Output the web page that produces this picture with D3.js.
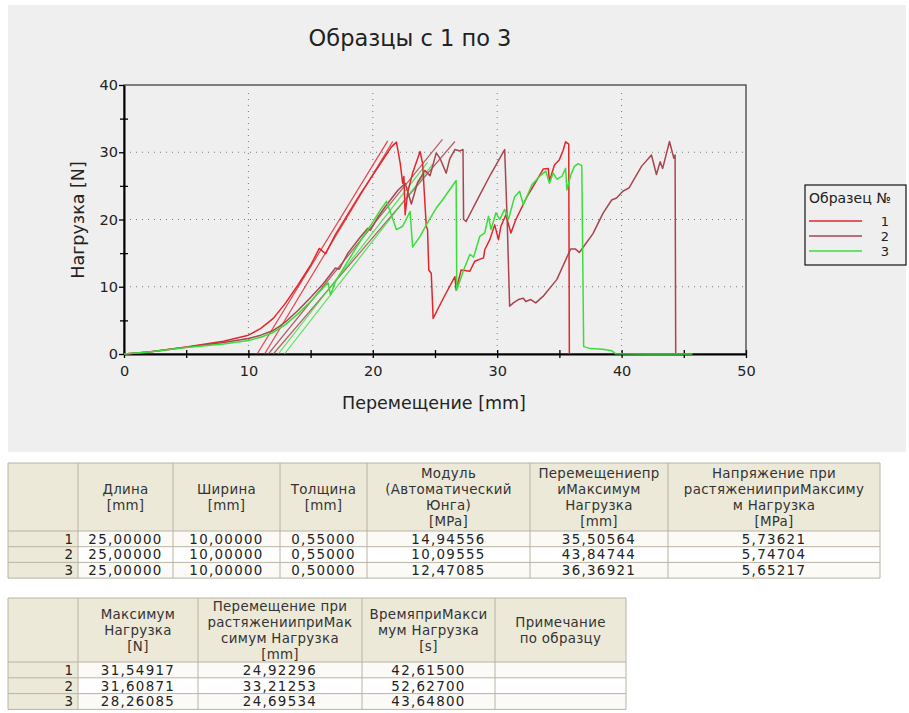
<!DOCTYPE html>
<html>
<head>
<meta charset="utf-8">
<script src="https://cdn.jsdelivr.net/npm/d3@7"></script>
<style>
  body { margin: 0; background: #fff; }
  svg text { font-family: "DejaVu Sans", Verdana, sans-serif; }
</style>
</head>
<body>
<svg id="chart" width="909" height="713"></svg>
<script>
// ---- data ----
const chartTitle = "Образцы с 1 по 3";
const xLabel = "Перемещение [mm]";
const yLabel = "Нагрузка [N]";
const xTicks = [0, 10, 20, 30, 40, 50];
const yTicks = [0, 10, 20, 30, 40];
const legendTitle = "Образец №";
const specimenNames = ["1", "2", "3"];
const specimenColors = ["#e2262c", "#a8464f", "#3ade3a"];

// specimen 1 (displacement mm, load N)
const curve1 = [[0,0],[2,0.3],[5,1.05],[8,1.9],[10,2.8],[11,3.8],[12,5.3],[13,7.6],[14,10.3],[15,13.2],[15.7,15.7],[16.2,14.9],[17,17.8],[18,20.8],[19,23.8],[20,26.6],[21,29.4],[21.5,30.8],[21.9,31.5],[22.2,28.4],[22.4,25.4],[22.5,26.4],[22.6,20.7],[22.8,24.0],[23.2,26.9],[23.8,30.1],[24.0,28.4],[24.3,19.0],[24.4,18.5],[24.5,12.5],[24.7,12.0],[24.85,5.3],[25.7,8.4],[26.6,11.5],[26.7,9.5],[27.1,12.5],[27.8,12.3],[28.2,13.8],[28.9,14.3],[29.0,15.5],[29.4,17.0],[29.8,19.2],[30.1,17.0],[30.3,19.0],[30.7,20.7],[31.1,18.0],[31.5,20.0],[32.4,23.4],[33.2,25.9],[33.7,27.5],[34.1,27.6],[34.2,25.7],[34.6,28.1],[35.0,28.9],[35.3,30.3],[35.5,31.55],[35.75,31.2],[35.8,0]];
// specimen 2
const curve2 = [[0,0],[2,0.3],[5,1.0],[8,1.7],[10,2.3],[11,2.8],[12,3.5],[12.5,4.1],[13,4.8],[14,6.5],[15,8.4],[16,10.4],[17,12.8],[17.3,12.6],[18,15.0],[19,17.4],[19.6,18.7],[19.8,18.4],[20.5,20.6],[21,21.9],[22,24.3],[22.6,25.4],[23.1,22.3],[23.6,25.5],[24.2,27.3],[24.6,26.5],[25.1,29.9],[25.4,29.1],[25.9,26.9],[26.2,29.1],[26.6,30.4],[27.0,30.2],[27.25,30.4],[27.3,20.0],[27.5,19.7],[28.5,23.3],[29.5,26.8],[30.6,30.4],[30.8,20.0],[31.0,7.1],[31.3,7.6],[31.7,8.1],[32.1,8.3],[32.3,7.8],[32.7,8.1],[33.1,7.6],[33.7,8.6],[34.8,11.1],[35.9,15.6],[36.3,15.6],[36.6,15.1],[37.0,16.1],[37.7,17.9],[38.5,20.9],[39.2,22.9],[39.6,23.2],[40.1,24.2],[40.6,24.7],[41.6,27.9],[42.4,29.6],[42.8,26.7],[43.1,28.6],[43.3,27.6],[43.85,31.6],[44.2,29.1],[44.3,29.6],[44.35,0]];
// specimen 3
const curve3 = [[0,0],[2,0.3],[5,0.95],[8,1.5],[10,2.0],[11,2.5],[12,3.2],[13,4.4],[14,6.0],[15,7.8],[16,9.8],[16.4,10.6],[16.6,8.8],[17,10.8],[18,13.8],[19,16.8],[20,19.6],[20.6,21.4],[21.1,22.7],[21.9,18.5],[22.4,19.0],[23.0,21.2],[23.2,15.9],[23.8,17.5],[24.3,19.2],[25.1,21.7],[25.6,22.9],[26.7,25.8],[26.75,9.5],[27.3,12.5],[27.8,14.8],[28.1,14.4],[28.6,17.5],[29.0,18.0],[29.3,20.5],[29.5,18.5],[29.9,21.0],[30.2,20.0],[30.6,21.5],[30.9,20.0],[31.4,23.4],[31.8,24.2],[32.1,22.2],[32.8,25.2],[33.4,26.4],[33.9,27.2],[34.2,25.4],[34.5,26.9],[34.8,26.0],[35.2,26.4],[35.5,27.6],[35.6,24.4],[35.9,26.5],[36.2,27.9],[36.5,28.3],[36.8,28.0],[36.95,1.1],[37.5,0.8],[38.5,0.7],[39.2,0.5],[39.5,0.05],[42,0],[45.7,0]];
// modulus fit lines, per specimen
const fit1 = [[[10.7,0],[21.2,31.7]], [[11.3,0],[21.6,31.6]]];
const fit2 = [[[11.6,0],[25.6,31.9]], [[12.0,0],[26.6,31.6]]];
const fit3 = [[[12.4,0],[24.4,28.5]], [[12.9,0],[24.8,28.2]]];

// tables
const table1Head = [["Длина", "[mm]"], ["Ширина", "[mm]"], ["Толщина", "[mm]"],
  ["Модуль", "(Автоматический", "Юнга)", "[MPa]"],
  ["Перемещениепр", "иМаксимум", "Нагрузка", "[mm]"],
  ["Напряжение при", "растяженииприМаксиму", "м Нагрузка", "[MPa]"]];
const table1Rows = [
  ["25,00000", "10,00000", "0,55000", "14,94556", "35,50564", "5,73621"],
  ["25,00000", "10,00000", "0,55000", "10,09555", "43,84744", "5,74704"],
  ["25,00000", "10,00000", "0,50000", "12,47085", "36,36921", "5,65217"]];
const table2Head = [["Максимум", "Нагрузка", "[N]"],
  ["Перемещение при", "растяженииприМак", "симум Нагрузка", "[mm]"],
  ["ВремяприМакси", "мум Нагрузка", "[s]"],
  ["Примечание", "по образцу"]];
const table2Rows = [
  ["31,54917", "24,92296", "42,61500", ""],
  ["31,60871", "33,21253", "52,62700", ""],
  ["28,26085", "24,69534", "43,64800", ""]];

// ---- layout ----
const svg = d3.select("#chart");
svg.append("rect").attr("x", 0).attr("y", 0).attr("width", 909).attr("height", 713).attr("fill", "#fff");
svg.append("rect").attr("x", 8).attr("y", 5).attr("width", 898).attr("height", 447).attr("fill", "#efefef");

const x = d3.scaleLinear().domain([0, 50]).range([124, 746]);
const y = d3.scaleLinear().domain([0, 40]).range([354, 85]);

svg.append("text").attr("x", 410).attr("y", 46).attr("text-anchor", "middle")
  .style("font-size", "22.5px").attr("fill", "#222").text(chartTitle);

// grid
const grid = svg.append("g");
grid.selectAll(".gx").data(xTicks.filter(d => d > 0 && d < 50)).enter().append("line")
  .attr("x1", d => x(d)).attr("x2", d => x(d)).attr("y1", y(40) + 8).attr("y2", y(0))
  .attr("stroke", "#777").attr("stroke-width", 1).attr("stroke-dasharray", "1,5");
grid.selectAll(".gy").data(yTicks.filter(d => d > 0 && d < 40)).enter().append("line")
  .attr("x1", x(0)).attr("x2", x(50)).attr("y1", d => y(d)).attr("y2", d => y(d))
  .attr("stroke", "#777").attr("stroke-width", 1).attr("stroke-dasharray", "1,5");

// frame
svg.append("rect").attr("x", x(0)).attr("y", y(40)).attr("width", x(50) - x(0)).attr("height", y(0) - y(40))
  .attr("fill", "none").attr("stroke", "#333").attr("stroke-width", 1.2);

// axes
const xAxis = d3.axisBottom(x).tickValues(d3.range(0, 51, 5)).tickSizeInner(4).tickSizeOuter(0)
  .tickFormat(d => xTicks.includes(d) ? d : "");
const gx = svg.append("g").attr("transform", `translate(0,${y(0)})`).call(xAxis);
gx.select(".domain").attr("stroke", "#000").attr("stroke-width", 2);
gx.selectAll(".tick line").attr("y1", -4).attr("stroke", "#000").attr("stroke-width", 1.3);
gx.selectAll(".tick text").attr("y", 12).style("font-size", "14.5px").attr("fill", "#222");

const yAxis = d3.axisLeft(y).tickValues(d3.range(0, 41, 5)).tickSizeInner(4).tickSizeOuter(0)
  .tickFormat(d => yTicks.includes(d) ? d : "");
const gy = svg.append("g").attr("transform", `translate(${x(0)},0)`).call(yAxis);
gy.select(".domain").attr("stroke", "#000").attr("stroke-width", 2);
gy.selectAll(".tick line").attr("x2", d => yTicks.includes(d) ? -5 : -4)
  .attr("x1", d => yTicks.includes(d) ? 0 : 4).attr("stroke", "#000").attr("stroke-width", 1.3);
gy.selectAll(".tick text").attr("x", -6).style("font-size", "14.5px").attr("fill", "#222");

svg.append("text").attr("x", 434).attr("y", 409).attr("text-anchor", "middle")
  .style("font-size", "17.5px").attr("fill", "#222").text(xLabel);
svg.append("text").attr("transform", "translate(84,220) rotate(-90)").attr("text-anchor", "middle")
  .style("font-size", "17.5px").attr("fill", "#222").text(yLabel);

// curves (drawn over the axes, like the original)
const line = d3.line().x(d => x(d[0])).y(d => y(d[1]));
const fits = [fit1, fit2, fit3];
const curves = [curve1, curve2, curve3];
fits.forEach((f, i) => {
  svg.append("g").selectAll("path").data(f).enter().append("path")
    .attr("d", line).attr("fill", "none").attr("stroke", specimenColors[i])
    .attr("stroke-width", 1.2).attr("opacity", 0.85);
});
curves.forEach((c, i) => {
  svg.append("path").datum(c).attr("d", line).attr("fill", "none")
    .attr("stroke", specimenColors[i]).attr("stroke-width", 1.5).attr("stroke-linejoin", "round");
});

// legend
const lg = svg.append("g");
lg.append("rect").attr("x", 805).attr("y", 185).attr("width", 101).attr("height", 80)
  .attr("fill", "#efefef").attr("stroke", "#111").attr("stroke-width", 1.2);
lg.append("text").attr("x", 809).attr("y", 203).style("font-size", "14px").attr("fill", "#222").text(legendTitle);
specimenNames.forEach((n, i) => {
  const ly = 221 + i * 15;
  lg.append("line").attr("x1", 809).attr("x2", 862).attr("y1", ly).attr("y2", ly)
    .attr("stroke", specimenColors[i]).attr("stroke-width", 1.4);
  lg.append("text").attr("x", 885).attr("y", ly + 5).attr("text-anchor", "middle")
    .style("font-size", "13px").attr("fill", "#222").text(n);
});

// tables
function drawTable(top, cols, headH, rowH, head, rows) {
  const g = svg.append("g");
  const bottom = top + headH + rowH * rows.length;
  g.append("rect").attr("x", cols[0]).attr("y", top).attr("width", cols[cols.length - 1] - cols[0])
    .attr("height", headH).attr("fill", "#ece9d8");
  g.append("rect").attr("x", cols[0]).attr("y", top + headH).attr("width", cols[1] - cols[0])
    .attr("height", rowH * rows.length).attr("fill", "#ece9d8");
  rows.forEach((r, i) => {
    g.append("rect").attr("x", cols[1]).attr("y", top + headH + i * rowH)
      .attr("width", cols[cols.length - 1] - cols[1]).attr("height", rowH)
      .attr("fill", i === 1 ? "#fff" : "#fbfaf6");
  });
  // lines
  cols.forEach(cx => g.append("line").attr("x1", cx).attr("x2", cx).attr("y1", top).attr("y2", bottom)
    .attr("stroke", "#b8b4a4").attr("stroke-width", 1));
  [top, top + headH].concat(rows.map((r, i) => top + headH + (i + 1) * rowH)).forEach(ry =>
    g.append("line").attr("x1", cols[0]).attr("x2", cols[cols.length - 1]).attr("y1", ry).attr("y2", ry)
      .attr("stroke", "#b8b4a4").attr("stroke-width", 1));
  // header text
  head.forEach((lines, j) => {
    const cx = (cols[j + 1] + cols[j + 2]) / 2;
    const lh = 16;
    const y0 = top + headH / 2 - (lines.length - 1) * lh / 2 + 5;
    lines.forEach((t, k) => g.append("text").attr("x", cx).attr("y", y0 + k * lh)
      .attr("text-anchor", "middle").style("font-size", "13.4px").style("letter-spacing", "0.3px")
      .attr("fill", "#333").text(t));
  });
  rows.forEach((r, i) => {
    const ry = top + headH + i * rowH + rowH - 3;
    g.append("text").attr("x", cols[1] - 5).attr("y", ry).attr("text-anchor", "end")
      .style("font-size", "13.4px").attr("fill", "#222").text(i + 1);
    r.forEach((v, j) => g.append("text").attr("x", (cols[j + 1] + cols[j + 2]) / 2).attr("y", ry)
      .attr("text-anchor", "middle").style("font-size", "13.4px").style("letter-spacing", "1.3px")
      .attr("fill", "#222").text(v));
  });
}
drawTable(463, [8, 78, 173, 280, 367, 530, 668, 880], 68, 15.7, table1Head, table1Rows);
drawTable(598, [8, 78, 198, 362, 495, 626], 64, 15.8, table2Head, table2Rows);
</script>
</body>
</html>
